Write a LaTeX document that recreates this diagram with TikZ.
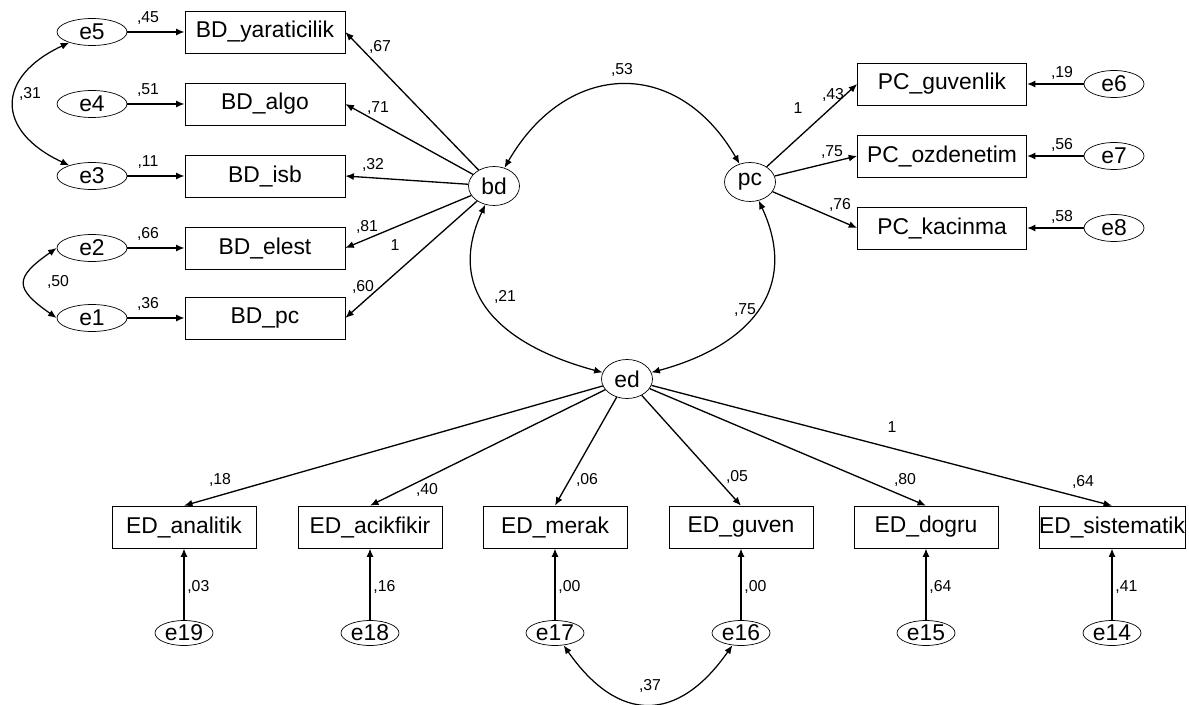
\documentclass[tikz,border=0pt]{standalone}
\usepackage{fontspec}
\setmainfont{Liberation Sans}
\usetikzlibrary{arrows.meta,shapes.geometric}

\tikzset{
  obs/.style={draw,rectangle,minimum width=3.2cm,minimum height=0.84cm,inner sep=0pt,font=\fontsize{13}{15}\selectfont},
  err/.style={draw,ellipse,inner sep=0pt,minimum width=1.4cm,minimum height=0.54cm,font=\fontsize{13}{15}\selectfont},
  lat/.style={draw,ellipse,inner sep=0pt,minimum width=1.02cm,minimum height=0.78cm,font=\fontsize{13}{15}\selectfont},
  num/.style={inner sep=0pt,font=\fontsize{9}{10}\selectfont},
  load/.style={->,line width=0.75pt},
  res/.style={->,line width=1.1pt},
  cov/.style={<->,line width=0.7pt}
}

\begin{document}
\begin{tikzpicture}[x=0.02cm,y=-0.02cm,>={Latex[length=1.7mm,width=1.4mm]}]
\useasboundingbox (0,0) rectangle (1189,705);

% latent variables
\node[lat] (bd) at (494,186) {bd};
\node[lat] (pc) at (750,182) {pc};
\node[lat] (ed) at (627,379) {ed};

% BD indicators
\foreach \y/\nm/\txt/\ev/\rr in {32/yar/yaraticilik/e5/{,45},104/algo/algo/e4/{,51},176/isb/isb/e3/{,11},248/elest/elest/e2/{,66},318/pc/pc/e1/{,36}}{
  \node[obs] (BD\nm) at (265,\y) {BD\_\txt};
  \node[err] (\ev) at (92,\y) {\ev};
  \draw[res] (\ev) -- (BD\nm);
  \node[num] (r\ev) at (148,\y-14) {\rr};
  \draw[load] (bd) -- (BD\nm.east);
}
\foreach \x/\y/\v [count=\i] in {380/47/{,67},378/108/{,71},373/165/{,32},367/227/{,81},395/245/1,363/287/{,60}}
  \node[num] (lbd\i) at (\x,\y) {\v};

% PC indicators
\foreach \y/\nm/\txt/\ev/\rr in {84/guv/guvenlik/e6/{,19},156/ozd/ozdenetim/e7/{,56},228/kac/kacinma/e8/{,58}}{
  \node[obs,minimum width=3.38cm] (PC\nm) at (942,\y) {PC\_\txt};
  \node[err,minimum width=1.2cm] (\ev) at (1114,\y) {\ev};
  \draw[res] (\ev) -- (PC\nm);
  \node[num] (r\ev) at (1062,\y-11) {\rr};
  \draw[load] (pc) -- (PC\nm.west);
}
\foreach \x/\y/\v [count=\i] in {798/108/1,833/95/{,43},832/152/{,75},840/205/{,76}}
  \node[num] (lpc\i) at (\x,\y) {\v};

% ED indicators
\foreach \x/\nm/\txt/\ev/\rr in {184/ana/analitik/e19/{,03},370/acik/acikfikir/e18/{,16},555/mer/merak/e17/{,00},741/guv/guven/e16/{,00},926/dog/dogru/e15/{,64},1112/sis/sistematik/e14/{,41}}{
  \node[obs,minimum width=2.88cm] (ED\nm) at (\x,527) {ED\_\txt};
  \node[err,minimum width=1.16cm,minimum height=0.5cm] (\ev) at (\x,633) {\ev};
  \draw[res] (\ev) -- (ED\nm);
  \node[num,anchor=west] (r\ev) at (\x+3,587) {\rr};
  \draw[load] (ed) -- (ED\nm.north);
}
\foreach \x/\y/\v [count=\i] in {220/480/{,18},427/490/{,40},587/480/{,06},737/477/{,05},905/480/{,80},1083/482/{,64},892/427/1}
  \node[num] (led\i) at (\x,\y) {\v};

% covariances
\draw[cov] (bd) to[out=60,in=120,looseness=1.35] (pc);
\draw[cov] (bd) to[out=-115,in=165,looseness=1.25] (ed);
\draw[cov] (pc) to[out=-65,in=15,looseness=1.25] (ed);
\draw[cov] (e5) to[out=205,in=155,looseness=1.7] (e3);
\draw[cov] (e2.west) to[out=215,in=145,looseness=1.9] (e1.west);
\draw[cov] (e17) to[out=-55,in=-125,looseness=1.45] (e16);
\foreach \x/\y/\v [count=\i] in {622/70/{,53},505/297/{,21},745/310/{,75},30/94/{,31},58/282/{,50},650/686/{,37}}
  \node[num] (lcv\i) at (\x,\y) {\v};
\end{tikzpicture}
\end{document}
